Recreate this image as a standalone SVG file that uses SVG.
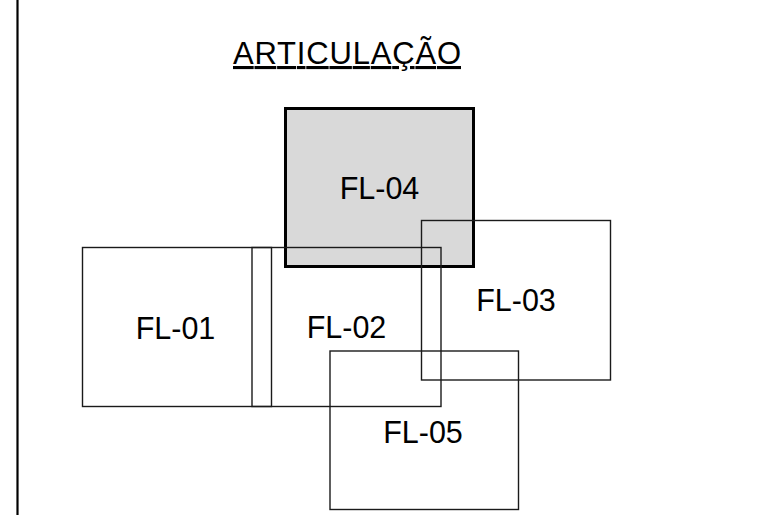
<svg xmlns="http://www.w3.org/2000/svg" width="771" height="515" viewBox="0 0 771 515">
<style>
.sheet{fill:none;stroke:#1a1a1a;stroke-width:1.4}
.label{font-family:"Liberation Sans",Arial,sans-serif;font-size:30.5px;fill:#000;text-anchor:middle}
.title{font-family:"Liberation Sans",Arial,sans-serif;font-size:31px;fill:#000;text-decoration:underline}
</style>
<rect width="771" height="515" fill="#fff"/>
<line x1="17.5" y1="0" x2="17.5" y2="515" stroke="#000" stroke-width="2.2"/>
<text class="title" x="233" y="64" textLength="228" lengthAdjust="spacing">ARTICULAÇÃO</text>
<g id="FL-04">
<rect x="285.5" y="108.5" width="188" height="158" fill="#d9d9d9" stroke="#000" stroke-width="3"/>
<text class="label" x="379.5" y="199">FL-04</text>
</g>
<g id="FL-01">
<rect class="sheet" x="82.5" y="247.5" width="189" height="159"/>
<text class="label" x="175.5" y="338.5">FL-01</text>
</g>
<g id="FL-02">
<rect class="sheet" x="252" y="247.5" width="189" height="159"/>
<text class="label" x="346.5" y="337.5">FL-02</text>
</g>
<g id="FL-03">
<rect class="sheet" x="421.5" y="220.5" width="189" height="159.5"/>
<text class="label" x="516" y="311">FL-03</text>
</g>
<g id="FL-05">
<rect class="sheet" x="330" y="351" width="188.5" height="158.5"/>
<text class="label" x="423" y="442.5">FL-05</text>
</g>
<g id="connectors"></g>
</svg>
